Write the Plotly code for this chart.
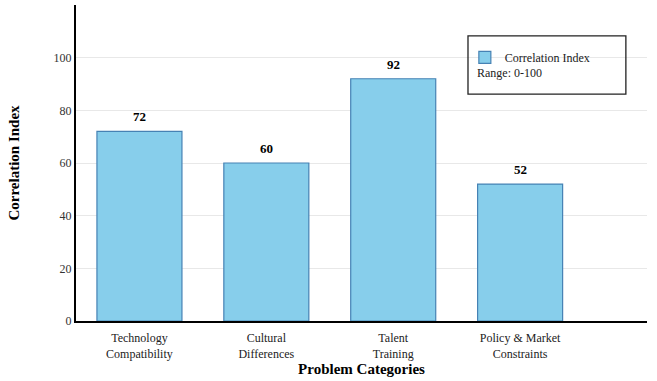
import plotly.graph_objects as go

categories = ["Technology<br>Compatibility", "Cultural<br>Differences", "Talent<br>Training", "Policy & Market<br>Constraints"]
values = [72, 60, 92, 52]
series_name = "Correlation Index"
range_note = "Range: 0-100"

FONT = "Liberation Serif, Times New Roman, serif"
xs = list(range(len(categories)))

fig = go.Figure()
fig.add_trace(go.Bar(
    x=xs, y=values, name=series_name,
    width=0.67,
    marker=dict(color="#87CEEB", line=dict(color="#4682B4", width=1.2)),
    showlegend=True, hoverinfo="x+y",
))

value_labels = [dict(x=x, y=v, xref="x", yref="y", text=f"<b>{v}</b>", showarrow=False,
                     yanchor="bottom", yshift=5, font=dict(family=FONT, size=13, color="black"))
                for x, v in zip(xs, values)]

fig.update_layout(
    width=657, height=381,
    margin=dict(l=76, r=10, t=5, b=60),
    paper_bgcolor="white", plot_bgcolor="white",
    font=dict(family=FONT, size=12, color="#222"),
    xaxis=dict(
        range=[-0.5, 4.0], tickmode="array", tickvals=xs,
        ticktext=categories, showline=True, linecolor="black", linewidth=2,
        showgrid=False, ticks="outside", ticklen=5, tickcolor="rgba(0,0,0,0)", zeroline=False,
        title=dict(text="<b>Problem Categories</b>", font=dict(size=15, color="black"), standoff=3),
        tickfont=dict(size=12, color="#222"),
    ),
    yaxis=dict(
        range=[0, 120], tickvals=[0, 20, 40, 60, 80, 100], showline=True,
        linecolor="black", linewidth=2, showgrid=True, gridcolor="#e8e8e8",
        ticks="", zeroline=False,
        title=dict(text="<b>Correlation Index</b>", font=dict(size=15, color="black"), standoff=30),
        tickfont=dict(size=12, color="#333"),
    ),
    legend=dict(x=0.681, y=0.88, xanchor="left", yanchor="top",
                bgcolor="rgba(0,0,0,0)", borderwidth=0,
                font=dict(size=12, color="#222")),
    shapes=[dict(type="rect", xref="paper", yref="paper", x0=0.6865, x1=0.963,
                 y0=0.718, y1=0.902, line=dict(color="#222", width=1.3), fillcolor="rgba(0,0,0,0)")],
    annotations=value_labels + [dict(text=range_note, xref="paper", yref="paper", x=0.698, y=0.785,
                      xanchor="left", yanchor="middle", showarrow=False,
                      font=dict(size=12, color="#222"))],
)

fig.write_html("out.html", config={"displayModeBar": False},
               post_script="document.body.style.margin='0';")
